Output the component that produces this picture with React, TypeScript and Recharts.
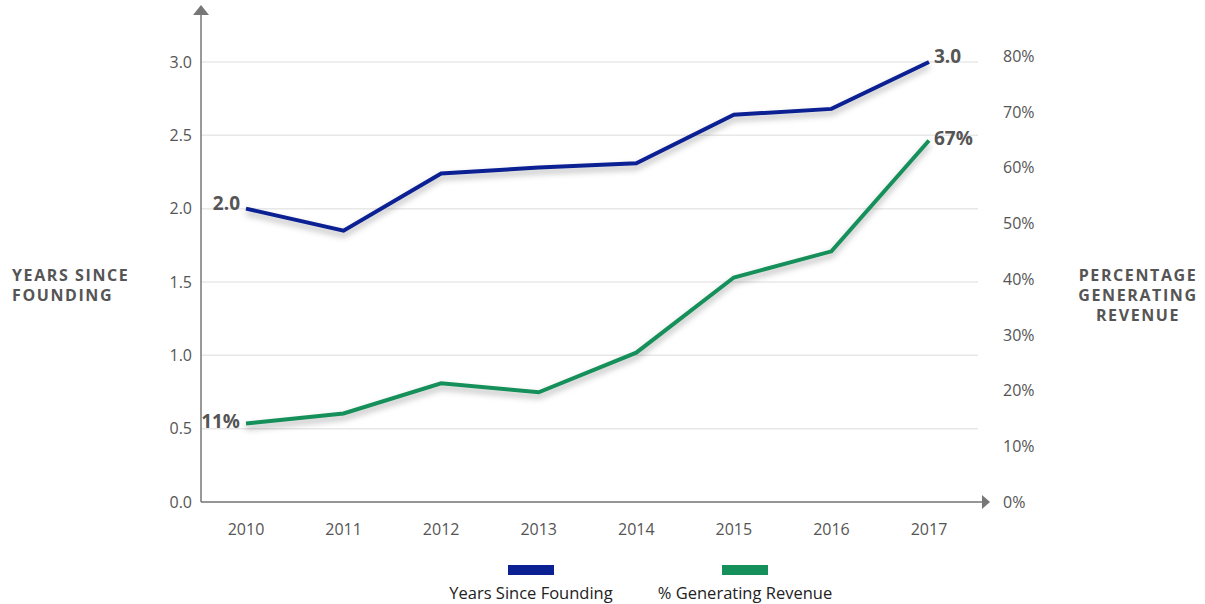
import React from "react";
import {
  LineChart,
  Line,
  XAxis,
  YAxis,
  CartesianGrid,
  LabelList,
} from "recharts";

document.body.style.margin = "0";

const years = ["2010", "2011", "2012", "2013", "2014", "2015", "2016", "2017"];
const yearsSinceFounding = [2.0, 1.85, 2.24, 2.28, 2.31, 2.64, 2.68, 3.0];
const pctGenerating = [14.1, 15.9, 21.3, 19.7, 26.8, 40.3, 45.0, 64.9];
const yearsLabels = ["2.0", "", "", "", "", "", "", "3.0"];
const pctLabels = ["11%", "", "", "", "", "", "", "67%"];
const leftTicks = [0, 0.5, 1, 1.5, 2, 2.5, 3];
const rightTicks = [0, 10, 20, 30, 40, 50, 60, 70, 80];

const seriesNames = ["Years Since Founding", "% Generating Revenue"];
const BLUE = "#0b2193";
const GREEN = "#15905a";
const FONT = "'Open Sans', sans-serif";
const GREY = "#555555";

const data = years.map((year, i) => ({
  year,
  years: yearsSinceFounding[i],
  pct: pctGenerating[i],
  yearsLabel: yearsLabels[i],
  pctLabel: pctLabels[i],
}));

const endLabel = (dy: number) => (props: any) => {
  const { x, y, value, index } = props;
  if (!value) return null;
  const first = index === 0;
  return (
    <text
      x={first ? x - 6 : x + 5}
      y={y + dy}
      textAnchor={first ? "end" : "start"}
      dominantBaseline="central"
      fontFamily={FONT}
      fontWeight={700}
      fontSize={19}
      fill={GREY}
    >
      {value}
    </text>
  );
};

const UpArrow = (props: any) => {
  const vb = props.viewBox;
  if (!vb) return null;
  const ax = vb.x + vb.width;
  const ay = vb.y;
  return (
    <polygon
      points={`${ax - 8},${ay + 1} ${ax + 8},${ay + 1} ${ax},${ay - 9}`}
      fill="#777"
    />
  );
};

const RightArrow = (props: any) => {
  const vb = props.viewBox;
  if (!vb) return null;
  const ax = vb.x + vb.width;
  const ay = vb.y;
  return (
    <g>
      <line x1={ax} y1={ay} x2={ax + 6} y2={ay} stroke="#777" strokeWidth={1.5} />
      <polygon
        points={`${ax + 4},${ay - 7} ${ax + 4},${ay + 7} ${ax + 12},${ay}`}
        fill="#777"
      />
    </g>
  );
};

const tickStyle = { fontSize: 16, fill: GREY, fontFamily: FONT };
const titleStyle: React.CSSProperties = {
  position: "absolute",
  fontFamily: FONT,
  fontWeight: 700,
  fontSize: 16,
  letterSpacing: 1.6,
  color: GREY,
  lineHeight: "20px",
};

export default function App() {
  return (
    <div style={{ position: "relative", width: 1205, height: 604, background: "#fff" }}>
      <LineChart
        width={1205}
        height={604}
        data={data}
        margin={{ top: 14, right: 100, bottom: 62, left: 100 }}
      >
        <CartesianGrid
          yAxisId="left"
          vertical={false}
          horizontalValues={leftTicks}
          stroke="#e8e8e8"
          strokeWidth={1.5}
        />
        <XAxis
          dataKey="year"
          height={40}
          padding={{ left: 45, right: 49 }}
          tick={tickStyle}
          tickLine={false}
          tickSize={0}
          tickMargin={22}
          axisLine={{ stroke: "#777", strokeWidth: 1.5 }}
          label={{ content: (p: any) => <RightArrow {...p} /> }}
        />
        <YAxis
          yAxisId="left"
          orientation="left"
          width={101}
          domain={[0, 3.327]}
          ticks={leftTicks}
          tickFormatter={(v: number) => v.toFixed(1)}
          tick={tickStyle}
          tickLine={false}
          tickSize={0}
          tickMargin={9}
          axisLine={{ stroke: "#777", strokeWidth: 1.5 }}
          label={{ content: (p: any) => <UpArrow {...p} /> }}
        />
        <YAxis
          yAxisId="right"
          orientation="right"
          width={127}
          domain={[0, 87.6]}
          ticks={rightTicks}
          tickFormatter={(v: number) => `${v}%`}
          tick={{ ...tickStyle, textAnchor: "start" }}
          tickLine={false}
          tickSize={0}
          tickMargin={25}
          axisLine={false}
        />
        <Line
          yAxisId="left"
          type="linear"
          dataKey="years"
          name={seriesNames[0]}
          stroke={BLUE}
          strokeWidth={4}
          dot={false}
          activeDot={false}
          isAnimationActive={false}
          style={{ filter: "drop-shadow(0px 4px 3px rgba(0,0,0,0.3))" }}
        >
          <LabelList dataKey="yearsLabel" content={endLabel(-6)} />
        </Line>
        <Line
          yAxisId="right"
          type="linear"
          dataKey="pct"
          name={seriesNames[1]}
          stroke={GREEN}
          strokeWidth={4}
          dot={false}
          activeDot={false}
          isAnimationActive={false}
          style={{ filter: "drop-shadow(0px 4px 3px rgba(0,0,0,0.3))" }}
        >
          <LabelList dataKey="pctLabel" content={endLabel(-2)} />
        </Line>
      </LineChart>

      <div style={{ ...titleStyle, left: 12, top: 265 }}>
        YEARS SINCE
        <br />
        FOUNDING
      </div>
      <div style={{ ...titleStyle, left: 1068, top: 265, width: 140, textAlign: "center" }}>
        PERCENTAGE
        <br />
        GENERATING
        <br />
        REVENUE
      </div>

      <div style={{ position: "absolute", left: 424, top: 565, width: 428, display: "flex" }}>
        {seriesNames.map((name, i) => (
          <div
            key={name}
            style={{ width: 214, display: "flex", flexDirection: "column", alignItems: "center" }}
          >
            <div style={{ width: 46, height: 10, background: i === 0 ? BLUE : GREEN }} />
            <div
              style={{
                marginTop: 8,
                fontFamily: FONT,
                fontSize: 16.5,
                color: "#222",
                whiteSpace: "nowrap",
                lineHeight: "19px",
              }}
            >
              {name}
            </div>
          </div>
        ))}
      </div>
    </div>
  );
}
